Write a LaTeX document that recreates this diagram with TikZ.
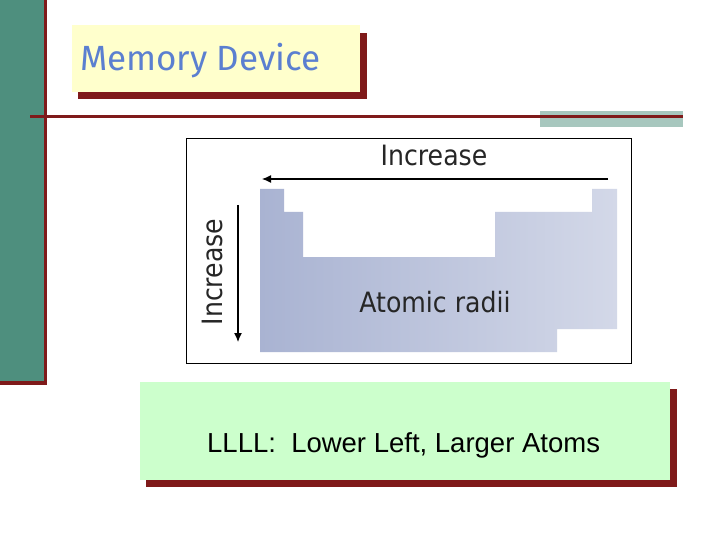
\documentclass[tikz,border=0pt]{standalone}
\usetikzlibrary{arrows.meta}
\usepackage{fontspec}
\setmainfont{Liberation Sans}
\newfontfamily\titlefont{Fira Sans}
\newfontfamily\labfont{DejaVu Sans Condensed}
\definecolor{dred}{HTML}{7F1A1A}
\definecolor{lgreen}{HTML}{4E8F7E}
\definecolor{ggray}{HTML}{A7C7BE}
\definecolor{tyellow}{HTML}{FFFFCC}
\definecolor{tblue}{HTML}{5B7FD0}
\definecolor{bgreen}{HTML}{CCFFCC}
\definecolor{pl}{HTML}{A9B3D2}
\definecolor{pr}{HTML}{D3D8E8}
\begin{document}
\begin{tikzpicture}[x=1pt,y=-1pt,
  shadow/.style={fill=dred},
  lab/.style={font=\labfont\fontsize{28}{30}\selectfont, text=black!85}]
\useasboundingbox (0,0) rectangle (720,540);
\fill[white] (0,0) rectangle (720,540);
% left bar
\fill[dred] (0,0) rectangle (47,385);
\fill[lgreen] (0,0) rectangle (44,381);
% title
\fill[shadow] (78,33) rectangle (367,99);
\fill[tyellow] (72,25) rectangle (360,92);
\node[font=\titlefont\fontsize{35}{37}\selectfont, text=tblue, anchor=west, inner sep=0pt] (title) at (80,61) {Memory Device};
% rule
\fill[ggray] (540,111) rectangle (683,127);
\fill[dred] (30,115.5) rectangle (683,118.5);
% picture
\draw[black, line width=0.8] (186,138) rectangle (631,363);
\shade[left color=pl, right color=pr]
  (260,189) -- (284,189) -- (284,212) -- (303,212) -- (303,257) -- (495,257)
  -- (495,212) -- (592,212) -- (592,189) -- (617,189) -- (617,329)
  -- (557,329) -- (557,352) -- (260,352) -- cycle;
\coordinate (h1) at (608,179);
\coordinate (h2) at (262,179);
\coordinate (v1) at (238,205);
\coordinate (v2) at (238,342);
\draw[line width=1.2, -{Latex[length=9,width=8]}] (h1) -- (h2);
\draw[line width=1.2, -{Latex[length=9,width=8]}] (v1) -- (v2);
\node[lab] (inch) at (434,155) {Increase};
\node[lab, rotate=90] (incv) at (212,272) {Increase};
\node[lab] (radii) at (435,302) {Atomic radii};
% bottom box
\fill[shadow] (146,389) rectangle (677,487);
\fill[bgreen] (140,382) rectangle (670,480);
\node[font=\fontsize{27.5}{30}\selectfont, anchor=west, inner sep=0pt] (ll) at (207,445) {LLLL:\ \ Lower Left, Larger Atoms};
\end{tikzpicture}
\end{document}
